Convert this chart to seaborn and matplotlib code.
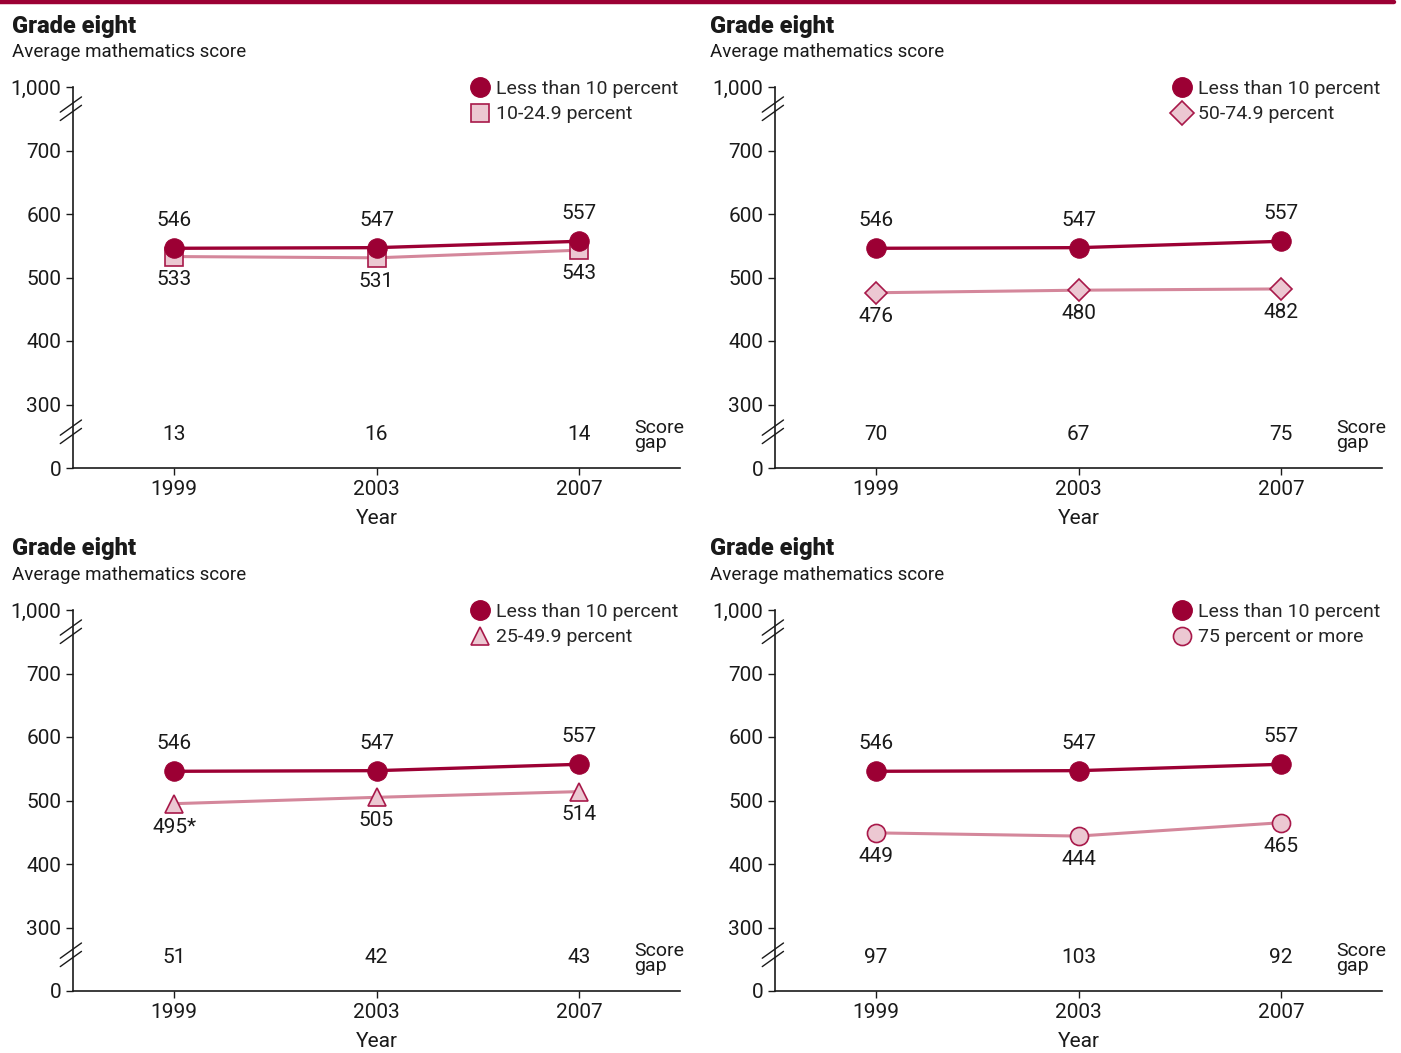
import numpy as np
import pandas as pd
import seaborn as sns
import matplotlib.pyplot as plt
from matplotlib.lines import Line2D
from matplotlib.transforms import blended_transform_factory

years = [1999, 2003, 2007]
ref_name = 'Less than 10 percent'
ref_scores = [546, 547, 557]

comp_names = ['10-24.9 percent', '50-74.9 percent', '25-49.9 percent', '75 percent or more']
comp_scores = [[533, 531, 543], [476, 480, 482], [495, 505, 514], [449, 444, 465]]
comp_labels = [['533', '531', '543'], ['476', '480', '482'], ['495*', '505', '514'], ['449', '444', '465']]
comp_markers = ['s', 'D', '^', 'o']
score_gaps = [[13, 16, 14], [70, 67, 75], [51, 42, 43], [97, 103, 92]]

ytick_vals = [0, 300, 400, 500, 600, 700, 1000]
ytick_labels = ['0', '300', '400', '500', '600', '700', '1,000']

DARK = '#9c0034'
PINK_FILL = '#ecc8d2'
PINK_LINE = '#d4879b'
PINK_EDGE = '#a8194a'
TXT = '#1a1a1a'

sns.set_style('white')
plt.rcParams['font.family'] = ['Roboto', 'DejaVu Sans']


# broken axis: 0-300 and 700-1000 squeezed to one 100-point step each
def fwd(v):
    return np.interp(v, [0, 300, 700, 1000], [200, 300, 700, 800])


def inv(u):
    return np.interp(u, [200, 300, 700, 800], [0, 300, 700, 1000])


fig = plt.figure(figsize=(14.01, 10.53), dpi=100)
W, H = 1401, 1053
boxes = [(73, 87, 680, 468), (775, 87, 1382, 468), (73, 610, 680, 991), (775, 610, 1382, 991)]

fig.add_artist(Line2D([0, 1394 / W], [1 - 2 / H, 1 - 2 / H], color=DARK, lw=3.2))

for i, (x0, y0, x1, y1) in enumerate(boxes):
    ax = fig.add_axes([x0 / W, 1 - y1 / H, (x1 - x0) / W, (y1 - y0) / H])
    ax.set_yscale('function', functions=(fwd, inv))
    ax.set_ylim(0, 1000)
    ax.set_xlim(1997, 2009)

    df = pd.DataFrame({'Year': years * 2,
                       'Score': ref_scores + comp_scores[i],
                       'Group': [ref_name] * 3 + [comp_names[i]] * 3})
    comp = df[df['Group'] == comp_names[i]]
    ref = df[df['Group'] == ref_name]
    sns.lineplot(data=comp, x='Year', y='Score', ax=ax, color=PINK_LINE, lw=2.2,
                 marker=comp_markers[i], markersize=13 if comp_markers[i] != 'D' else 11,
                 markerfacecolor=PINK_FILL, markeredgecolor=PINK_EDGE, markeredgewidth=1.2,
                 legend=False, zorder=3)
    sns.lineplot(data=ref, x='Year', y='Score', ax=ax, color=DARK, lw=2.4,
                 marker='o', markersize=14, markerfacecolor=DARK, markeredgecolor=DARK,
                 legend=False, zorder=4)

    for x, v in zip(years, ref_scores):
        ax.annotate(str(v), (x, v), xytext=(0, 13), textcoords='offset points',
                    ha='center', va='bottom', fontsize=15, color=TXT)
    for x, v, lab in zip(years, comp_scores[i], comp_labels[i]):
        ax.annotate(lab, (x, v), xytext=(0, -10), textcoords='offset points',
                    ha='center', va='top', fontsize=15, color=TXT)

    tr = blended_transform_factory(ax.transData, ax.transAxes)
    for x, g in zip(years, score_gaps[i]):
        ax.text(x, 0.089, str(g), transform=tr, ha='center', va='center', fontsize=15, color=TXT)
    ax.text(0.924, 0.085, 'Score\ngap', transform=ax.transAxes, ha='left', va='center',
            fontsize=14, linespacing=0.75, color=TXT)

    ax.set_yticks(ytick_vals)
    ax.set_yticklabels(ytick_labels)
    ax.set_xticks(years)
    ax.set_xticklabels([str(y) for y in years])
    ax.tick_params(axis='both', labelsize=15, length=5, width=1, colors=TXT,
                   direction='out', bottom=True, left=True)
    ax.set_xlabel('Year', fontsize=15, labelpad=7, color=TXT)
    ax.set_ylabel('')
    sns.despine(ax=ax)
    for s in ['left', 'bottom']:
        ax.spines[s].set_color(TXT)
        ax.spines[s].set_linewidth(1.2)
    ax.grid(False)

    # axis break marks
    for yb in [0.932, 0.084]:
        for dy in [0.0, 0.022]:
            ax.plot([-0.021, 0.014], [yb - 0.02 + dy, yb + 0.02 + dy], transform=ax.transAxes,
                    color=TXT, lw=1, clip_on=False, zorder=5)

    handles = [Line2D([], [], ls='none', marker='o', markersize=14, color=DARK),
               Line2D([], [], ls='none', marker=comp_markers[i],
                      markersize=13 if comp_markers[i] != 'D' else 12,
                      markerfacecolor=PINK_FILL, markeredgecolor=PINK_EDGE, markeredgewidth=1.2)]
    ax.legend(handles, [ref_name, comp_names[i]], loc='upper right', bbox_to_anchor=(1.01, 1.04),
              frameon=False, fontsize=14, handlelength=1.0, handletextpad=0.35,
              labelspacing=0.4, borderaxespad=0.0)

    tx = (12 if x0 < 400 else 710) / W
    fig.text(tx, 1 - (y0 - 61) / H, 'Grade eight', fontsize=17, fontweight='black', va='center', color=TXT)
    fig.text(tx, 1 - (y0 - 35) / H, 'Average mathematics score', fontsize=13.5, va='center', color=TXT)

fig.savefig('out.png', dpi=100)
